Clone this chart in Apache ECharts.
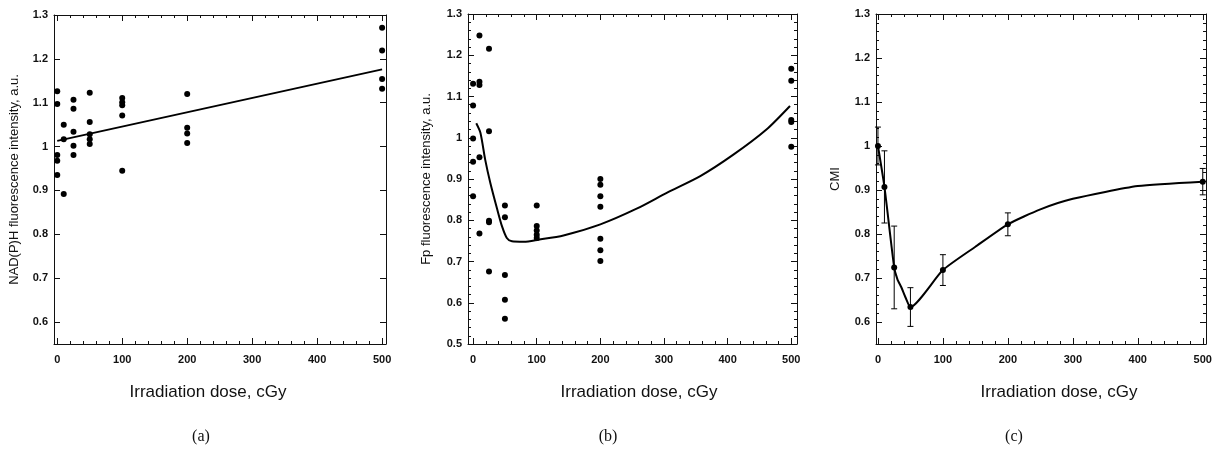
<!DOCTYPE html>
<html lang="en">
<head>
<meta charset="UTF-8">
<script src="https://cdn.jsdelivr.net/npm/echarts@6.0.0/dist/echarts.min.js"></script>
<style>html,body{margin:0;padding:0;background:#fff;}</style>
</head>
<body>
<div id="chart" style="width:1221px;height:452px;"></div>
<script type="text/javascript">
// (a) NAD(P)H fluorescence, single measurements + linear fit
var nadDose  = [0, 0, 0, 0, 0, 10, 10, 10, 25, 25, 25, 25, 25, 50, 50, 50, 50, 50,
                100, 100, 100, 100, 100, 200, 200, 200, 200, 500, 500, 500, 500];
var nadValue = [1.126, 1.097, 0.981, 0.968, 0.935, 1.050, 1.017, 0.892,
                1.107, 1.086, 1.034, 1.002, 0.981, 1.123, 1.056, 1.028, 1.017, 1.006,
                1.111, 1.101, 1.094, 1.071, 0.945, 1.120, 1.043, 1.030, 1.008,
                1.271, 1.219, 1.154, 1.132];
var nadFitDose  = [0, 500];
var nadFitValue = [1.013, 1.176];

// (b) Fp fluorescence, single measurements + fitted curve
var fpDose  = [0, 0, 0, 0, 0, 10, 10, 10, 10, 10, 25, 25, 25, 25, 25, 50, 50, 50, 50, 50,
               100, 100, 100, 100, 100, 200, 200, 200, 200, 200, 200, 200, 500, 500, 500, 500, 500];
var fpValue = [1.131, 1.078, 0.998, 0.942, 0.858, 1.248, 1.136, 1.128, 0.953, 0.768,
               1.216, 1.016, 0.799, 0.795, 0.676, 0.836, 0.807, 0.667, 0.607, 0.561,
               0.836, 0.786, 0.775, 0.765, 0.757, 0.900, 0.886, 0.858, 0.833, 0.755, 0.727, 0.701,
               1.167, 1.138, 1.043, 1.038, 0.978];
var fpFitDose  = [5, 11.5, 19, 27, 38, 45.5, 53, 61, 80, 103, 142, 200, 257, 305, 357, 409, 461, 498];
var fpFitValue = [1.035, 1.012, 0.947, 0.891, 0.826, 0.785, 0.757, 0.749, 0.748, 0.753, 0.763,
                  0.790, 0.828, 0.867, 0.907, 0.959, 1.020, 1.077];

// (c) CMI, mean +- error and fitted curve
var cmiDose  = [0, 10, 25, 50, 100, 200, 500];
var cmiMean  = [1.000, 0.907, 0.724, 0.634, 0.718, 0.822, 0.919];
var cmiErr   = [0.043, 0.082, 0.094, 0.044, 0.035, 0.026, 0.030];
var cmiFitDose  = [0, 10, 25, 30, 36, 43, 50, 100, 150, 200, 250, 300, 400, 500];
var cmiFitValue = [1.000, 0.907, 0.724, 0.697, 0.679, 0.654, 0.634, 0.718, 0.771,
                   0.822, 0.856, 0.880, 0.909, 0.919];

// ticks
var doseTicks = [0, 100, 200, 300, 400, 500];
var yTicksA = [0.6, 0.7, 0.8, 0.9, 1, 1.1, 1.2, 1.3];
var yTicksB = [0.5, 0.6, 0.7, 0.8, 0.9, 1, 1.1, 1.2, 1.3];
var yTicksC = [0.6, 0.7, 0.8, 0.9, 1, 1.1, 1.2, 1.3];

var ink = "#111";
var sans = "'Liberation Sans', Arial, sans-serif";

function minorOf(major, n) {
    var out = [];
    for (var i = 0; i < major.length - 1; i++) {
        var step = (major[i + 1] - major[i]) / n;
        for (var k = 1; k < n; k++) out.push(+(major[i] + k * step).toFixed(4));
    }
    return out;
}
function pairs(xs, ys) { return xs.map(function (x, i) { return [x, ys[i]]; }); }

var grids = [], xAxes = [], yAxes = [], series = [];

function addPanel(p) {
    var g = grids.length;
    grids.push({ left: p.left, top: p.top, width: p.width, height: p.height, outerBoundsMode: "none" });
    var main = { x: xAxes.length, y: yAxes.length };

    function axis(dim, pos, ticks, len, withLabel, withLine, name) {
        var a = {
            type: "value", gridIndex: g, position: pos,
            min: dim === "x" ? p.xMin : p.yMin,
            max: dim === "x" ? p.xMax : p.yMax,
            axisLine: { show: withLine, onZero: false, lineStyle: { color: ink, width: 1 } },
            axisTick: { show: true, inside: true, length: len, customValues: ticks, lineStyle: { color: ink, width: 1 } },
            axisLabel: withLabel ? {
                show: true, customValues: ticks, color: ink, fontFamily: sans,
                fontSize: 11, fontWeight: "bold", margin: dim === "x" ? 10 : 6
            } : { show: false },
            splitLine: { show: false }
        };
        if (name) {
            a.name = name;
            a.nameLocation = "middle";
            a.nameGap = p.nameGap;
            a.nameTextStyle = { color: ink, fontFamily: sans, fontSize: 13 };
        }
        (dim === "x" ? xAxes : yAxes).push(a);
    }

    var xMinor = minorOf(doseTicks, 5);
    axis("x", "bottom", doseTicks, 6, true, true);
    axis("x", "top", doseTicks, 6, false, true);
    axis("x", "bottom", xMinor, 3, false, false);
    axis("x", "top", xMinor, 3, false, false);

    axis("y", "left", p.yTicks, 6, true, true, p.yName);
    axis("y", "right", p.yTicks, 6, false, true);
    if (p.yMinor) {
        var yMinor = minorOf(p.yTicks, 5);
        axis("y", "left", yMinor, 3, false, false);
        axis("y", "right", yMinor, 3, false, false);
    }
    return main;
}

var a = addPanel({ left: 54, top: 15, width: 332, height: 329, xMin: -5, xMax: 506, yMin: 0.55, yMax: 1.3,
    yTicks: yTicksA, yMinor: false, yName: "NAD(P)H fluorescence intensity, a.u.", nameGap: 33 });
var b = addPanel({ left: 468, top: 14, width: 329, height: 330, xMin: -8, xMax: 509, yMin: 0.5, yMax: 1.3,
    yTicks: yTicksB, yMinor: true, yName: "Fp fluorescence intensity, a.u.", nameGap: 35 });
var c = addPanel({ left: 876, top: 14, width: 330, height: 330, xMin: -3, xMax: 505, yMin: 0.55, yMax: 1.3,
    yTicks: yTicksC, yMinor: true, yName: "CMI", nameGap: 34 });

var dot = { color: "#000", opacity: 1 };
var thick = { color: "#000", width: 2 };

series.push({ type: "line", xAxisIndex: a.x, yAxisIndex: a.y, data: pairs(nadFitDose, nadFitValue),
    symbol: "none", lineStyle: thick, silent: true });
series.push({ type: "scatter", xAxisIndex: a.x, yAxisIndex: a.y, data: pairs(nadDose, nadValue),
    symbolSize: 6, itemStyle: dot });

series.push({ type: "line", xAxisIndex: b.x, yAxisIndex: b.y, data: pairs(fpFitDose, fpFitValue),
    symbol: "none", smooth: 0.25, lineStyle: thick, silent: true });
series.push({ type: "scatter", xAxisIndex: b.x, yAxisIndex: b.y, data: pairs(fpDose, fpValue),
    symbolSize: 6, itemStyle: dot });

series.push({ type: "line", xAxisIndex: c.x, yAxisIndex: c.y, data: pairs(cmiFitDose, cmiFitValue),
    symbol: "none", smooth: 0.2, lineStyle: thick, silent: true });
series.push({
    type: "custom", xAxisIndex: c.x, yAxisIndex: c.y, clip: false,
    data: cmiDose.map(function (d, i) { return [d, cmiMean[i], cmiErr[i]]; }),
    renderItem: function (params, api) {
        var x = api.value(0), m = api.value(1), e = api.value(2);
        var hi = api.coord([x, m + e]), lo = api.coord([x, m - e]);
        var st = { stroke: "#000", lineWidth: 1 };
        return { type: "group", children: [
            { type: "line", shape: { x1: hi[0], y1: hi[1], x2: lo[0], y2: lo[1] }, style: st },
            { type: "line", shape: { x1: hi[0] - 3, y1: hi[1], x2: hi[0] + 3, y2: hi[1] }, style: st },
            { type: "line", shape: { x1: lo[0] - 3, y1: lo[1], x2: lo[0] + 3, y2: lo[1] }, style: st }
        ] };
    }
});
series.push({ type: "scatter", xAxisIndex: c.x, yAxisIndex: c.y, data: pairs(cmiDose, cmiMean),
    symbolSize: 6, itemStyle: dot });

function label(x, y, text, font) {
    return { type: "text", x: x, y: y, silent: true,
        style: { text: text, font: font, fill: ink, align: "center", verticalAlign: "middle",
                 textAlign: "center", textVerticalAlign: "middle" } };
}
var xName = "Irradiation dose, cGy";
var xFont = "17px 'Liberation Sans', Arial, sans-serif";
var capFont = "16px 'Liberation Serif', 'DejaVu Serif', serif";

var chart = echarts.init(document.getElementById("chart"));
chart.setOption({
    animation: false,
    backgroundColor: "#fff",
    grid: grids,
    xAxis: xAxes,
    yAxis: yAxes,
    series: series,
    graphic: [
        label(208, 392, xName, xFont),
        label(639, 392, xName, xFont),
        label(1059, 392, xName, xFont),
        label(201, 437, "(a)", capFont),
        label(608, 437, "(b)", capFont),
        label(1014, 437, "(c)", capFont)
    ]
});
</script>
</body>
</html>
